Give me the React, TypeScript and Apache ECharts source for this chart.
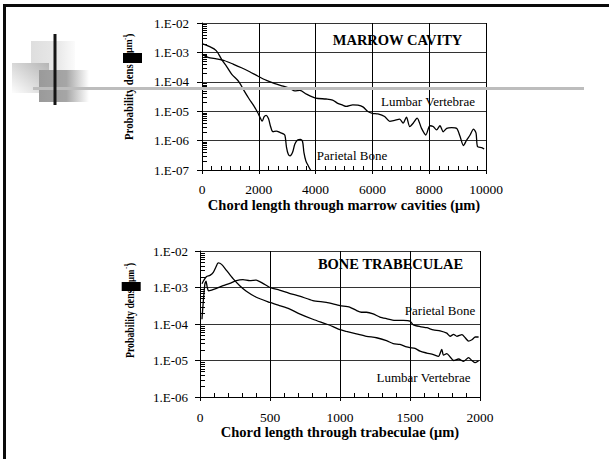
import React, { useEffect, useRef } from 'react';
import * as echarts from 'echarts';

const SERIF = "'Liberation Serif', 'Times New Roman', Times, serif";

// Marrow cavities: [chord length (µm), probability density (µm^-1)]
const marrowParietal: [number, number][] = [
  [0, 2.0e-3], [250, 1.6e-3], [500, 1.15e-3], [690, 5.8e-4], [870, 3.3e-4],
  [1050, 1.8e-4], [1300, 1.0e-4], [1480, 5.0e-5], [1650, 2.7e-5], [1820, 1.55e-5],
  [1960, 9.0e-6], [2050, 6.0e-6], [2120, 4.6e-6], [2190, 6.5e-6], [2260, 7.2e-6],
  [2340, 5.6e-6], [2420, 2.9e-6], [2500, 2.0e-6], [2620, 2.1e-6], [2740, 1.9e-6],
  [2860, 1.7e-6], [2920, 1.5e-6], [2975, 6.0e-7], [3035, 3.5e-7], [3100, 3.0e-7],
  [3190, 4.0e-7], [3270, 7.6e-7], [3365, 1.05e-6], [3470, 1.1e-6], [3540, 9.3e-7],
  [3590, 3.9e-7], [3660, 2.0e-7], [3740, 1.4e-7], [3820, 1.0e-7], [3880, 8.0e-8],
];

const marrowLumbar: [number, number][] = [
  [0, 8.7e-4], [210, 6.8e-4], [506, 6.0e-4], [800, 5.2e-4], [1094, 4.0e-4],
  [1390, 3.0e-4], [1680, 2.2e-4], [1975, 1.55e-4], [2270, 1.12e-4], [2565, 8.7e-5],
  [2860, 7.1e-5], [3095, 5.9e-5], [3270, 4.9e-5], [3445, 5.1e-5], [3680, 3.8e-5],
  [4000, 2.8e-5], [4366, 2.6e-5], [4600, 2.4e-5], [4780, 1.85e-5], [4955, 1.6e-5],
  [5075, 1.45e-5], [5310, 1.65e-5], [5490, 1.6e-5], [5665, 1.4e-5], [5840, 9.8e-6],
  [6000, 8.5e-6], [6195, 8.1e-6], [6430, 6.6e-6], [6610, 4.5e-6], [6785, 4.9e-6],
  [6960, 5.4e-6], [7080, 3.9e-6], [7200, 6.3e-6], [7315, 3.0e-6], [7435, 3.9e-6],
  [7575, 5.8e-6], [7730, 2.6e-6], [7880, 1.55e-6], [8025, 3.2e-6], [8140, 3.0e-6],
  [8260, 2.3e-6], [8380, 3.2e-6], [8495, 2.0e-6], [8615, 2.6e-6], [8790, 2.75e-6],
  [8970, 2.6e-6], [9085, 1.4e-6], [9205, 6.8e-7], [9320, 1.05e-6], [9440, 1.55e-6],
  [9560, 2.45e-6], [9650, 1.8e-6], [9700, 6.3e-7], [9850, 5.8e-7], [9935, 5.2e-7],
];

// Bone trabeculae: [chord length (µm), probability density (µm^-1)]
const trabParietal: [number, number][] = [
  [14, 1.35e-4], [24, 4.4e-4], [35, 1.25e-3], [43, 1.5e-3], [52, 1.0e-3],
  [61, 8.1e-4], [83, 8.5e-4], [118, 9.5e-4], [165, 1.12e-3], [213, 1.3e-3],
  [260, 1.55e-3], [307, 1.65e-3], [355, 1.55e-3], [402, 1.6e-3], [449, 1.3e-3],
  [499, 1.0e-3], [567, 8.5e-4], [638, 6.9e-4], [711, 5.8e-4], [806, 4.4e-4],
  [902, 3.9e-4], [1000, 3.2e-4], [1069, 2.9e-4], [1117, 2.35e-4], [1153, 2.1e-4],
  [1189, 2.1e-4], [1237, 1.9e-4], [1285, 1.55e-4], [1332, 1.4e-4], [1392, 1.25e-4],
  [1452, 1.25e-4], [1500, 1.2e-4], [1524, 9.5e-5], [1572, 8.5e-5], [1620, 7.9e-5],
  [1667, 6.9e-5], [1715, 6.5e-5], [1763, 5.6e-5], [1787, 4.6e-5], [1811, 5.2e-5],
  [1835, 4.6e-5], [1871, 5.1e-5], [1894, 4.2e-5], [1918, 3.4e-5], [1942, 3.7e-5],
  [1966, 4.4e-5], [1990, 4.4e-5],
];

const trabLumbar: [number, number][] = [
  [14, 1.26e-3], [28, 1.6e-3], [47, 2.0e-3], [71, 2.15e-3], [95, 2.6e-3],
  [113, 3.6e-3], [130, 4.7e-3], [154, 4.3e-3], [189, 2.95e-3], [236, 1.75e-3],
  [284, 1.12e-3], [331, 7.9e-4], [402, 5.4e-4], [499, 3.9e-4], [567, 3.2e-4],
  [638, 2.6e-4], [711, 1.9e-4], [806, 1.35e-4], [902, 1.0e-4], [950, 8.5e-5],
  [1000, 7.0e-5], [1045, 6.3e-5], [1117, 5.4e-5], [1189, 4.6e-5], [1261, 4.2e-5],
  [1332, 3.5e-5], [1380, 2.9e-5], [1428, 2.75e-5], [1476, 2.35e-5], [1500, 2.25e-5],
  [1536, 2.15e-5], [1572, 1.8e-5], [1620, 1.6e-5], [1667, 1.45e-5], [1703, 1.3e-5],
  [1727, 2.0e-5], [1739, 1.4e-5], [1763, 1.55e-5], [1787, 1.25e-5], [1811, 1.0e-5],
  [1847, 1.1e-5], [1883, 9.5e-6], [1918, 1.2e-5], [1942, 1.0e-5], [1966, 8.7e-6],
  [1990, 9.8e-6],
];

// Axis ranges
const marrowX = { max: 10000, interval: 2000, minorPerInterval: 6 };
const trabX = { max: 2000, interval: 500, minorPerInterval: 5 };
const marrowDecades = [1e-7, 1e-6, 1e-5, 1e-4, 1e-3];
const trabDecades = [1e-6, 1e-5, 1e-4, 1e-3];
const minorSteps = [2, 3, 4, 5, 6, 7, 8, 9];

// Log minor tick positions (2..9 within each decade), pinned to x = 0
const logMinorTicks = (decades: number[]) =>
  decades.flatMap((d) => minorSteps.map((m) => [0, m * d]));

// Linear minor tick positions between the labelled x ticks, pinned to the y minimum
const linMinorTicks = (ax: { max: number; interval: number; minorPerInterval: number }, yMin: number) => {
  const out: number[][] = [];
  const step = ax.interval / ax.minorPerInterval;
  for (let k = 0; k < ax.max / ax.interval; k++) {
    for (let j = 1; j < ax.minorPerInterval; j++) out.push([k * ax.interval + j * step, yMin]);
  }
  return out;
};

const decadeLabel = (v: number) => {
  const e = Math.round(Math.log10(v));
  return `1.E${e < 0 ? '-' : '+'}${String(Math.abs(e)).padStart(2, '0')}`;
};

const BLACK = '#000';

const mainX = (gridIndex: number, max: number, interval: number, name: string, nameGap: number, margin: number) => ({
  type: 'value',
  gridIndex,
  position: 'bottom',
  min: 0,
  max,
  interval,
  name,
  nameLocation: 'middle',
  nameGap,
  nameTextStyle: { fontFamily: SERIF, fontWeight: 'bold', fontSize: 14.5, color: BLACK },
  axisLine: { show: true, lineStyle: { color: BLACK, width: 1 } },
  axisTick: { show: true, length: 4, lineStyle: { color: BLACK } },
  axisLabel: { formatter: (v: number) => String(v), fontFamily: SERIF, fontSize: 13.5, color: BLACK, margin },
  splitLine: { show: true, lineStyle: { color: BLACK, width: 1 } },
});

const logY = (gridIndex: number, min: number, splitNumber: number, margin: number) => ({
  type: 'log',
  logBase: 10,
  gridIndex,
  min,
  max: 1e-2,
  splitNumber,
  axisLine: { show: true, lineStyle: { color: BLACK, width: 1 } },
  axisTick: { show: true, length: 5, lineStyle: { color: BLACK } },
  axisLabel: { formatter: decadeLabel, fontFamily: SERIF, fontSize: 13, color: BLACK, margin },
  splitLine: { show: true, lineStyle: { color: '#333', width: 1.2 } },
});

const curve = (data: [number, number][], xAxisIndex: number, yAxisIndex: number, smooth: number) => ({
  type: 'line',
  data,
  xAxisIndex,
  yAxisIndex,
  showSymbol: false,
  smooth,
  silent: true,
  lineStyle: { color: BLACK, width: 1.3 },
});

// Short tick marks drawn through the axes' own scales; dx/dy give the tick direction
const tickSeries = (data: number[][], xAxisIndex: number, yAxisIndex: number, dx: number, dy: number) => ({
  type: 'custom',
  coordinateSystem: 'cartesian2d',
  xAxisIndex,
  yAxisIndex,
  silent: true,
  z: 5,
  data,
  renderItem: (_p: any, api: any) => {
    const pt = api.coord([api.value(0), api.value(1)]);
    const x = dx ? pt[0] : Math.round(pt[0]) + 0.5;
    const y = dy ? pt[1] : Math.round(pt[1]) + 0.5;
    return {
      type: 'line',
      shape: { x1: x, y1: y, x2: x + dx, y2: y + dy },
      style: { stroke: BLACK, lineWidth: 1 },
    };
  },
});

const txt = (text: string, x: number, y: number, size: number, bold: boolean) => ({
  type: 'text',
  x,
  y,
  z: 20,
  silent: true,
  style: {
    text,
    fontFamily: SERIF,
    fontSize: size,
    fontWeight: bold ? 'bold' : 'normal',
    fill: BLACK,
    align: 'center',
    verticalAlign: 'middle',
  },
});

// Rotated y-axis caption with the blacked-out middle
const yCaption = (cx: number, bottom: number, size: number, squeeze: number, boxX: number, boxY: number, boxW: number, boxH: number) => [
  {
    type: 'text', x: cx, y: bottom, rotation: Math.PI / 2, scaleX: squeeze, z: 20, silent: true,
    style: { text: 'Probability dens', fontFamily: SERIF, fontSize: size, fontWeight: 'bold', fill: BLACK, align: 'left', verticalAlign: 'middle' },
  },
  {
    type: 'text', x: cx, y: boxY, rotation: Math.PI / 2, scaleX: squeeze, z: 20, silent: true,
    style: { text: 'μm', fontFamily: SERIF, fontSize: size - 1, fontWeight: 'bold', fill: BLACK, align: 'left', verticalAlign: 'middle' },
  },
  {
    type: 'text', x: cx - 4, y: boxY - 13, rotation: Math.PI / 2, z: 20, silent: true,
    style: { text: '-1', fontFamily: SERIF, fontSize: 7, fontWeight: 'bold', fill: BLACK, align: 'left', verticalAlign: 'middle' },
  },
  {
    type: 'text', x: cx + 1, y: boxY - 16, rotation: Math.PI / 2, z: 20, silent: true,
    style: { text: ')', fontFamily: SERIF, fontSize: size - 2, fontWeight: 'bold', fill: BLACK, align: 'left', verticalAlign: 'middle' },
  },
  { type: 'rect', z: 21, silent: true, shape: { x: boxX, y: boxY, width: boxW, height: boxH }, style: { fill: BLACK } },
];

const linGrad = (x: number, y: number, x2: number, y2: number, stops: [number, string][]) => ({
  type: 'linear', x, y, x2, y2,
  colorStops: stops.map(([offset, color]) => ({ offset, color })),
});

export default function App() {
  const ref = useRef<HTMLDivElement>(null);

  useEffect(() => {
    if (!ref.current) return;
    const chart = echarts.init(ref.current, undefined, { renderer: 'svg' });

    chart.setOption({
      animation: false,
      backgroundColor: '#fff',
      grid: [
        { left: 202, top: 23, width: 284, height: 147, outerBoundsMode: 'none' },
        { left: 200, top: 251, width: 280, height: 146, outerBoundsMode: 'none' },
      ],
      xAxis: [
        mainX(0, marrowX.max, marrowX.interval, 'Chord length through marrow cavities (μm)', 27, 12),
        mainX(1, trabX.max, trabX.interval, 'Chord length through trabeculae (μm)', 26, 13),
      ],
      yAxis: [logY(0, 1e-7, 5, 13), logY(1, 1e-6, 4, 12)],
      series: [
        curve(marrowParietal, 0, 0, 0.35),
        curve(marrowLumbar, 0, 0, 0.25),
        curve(trabParietal, 1, 1, 0.2),
        curve(trabLumbar, 1, 1, 0.25),
        tickSeries(logMinorTicks(marrowDecades), 0, 0, 5, 0),
        tickSeries(logMinorTicks(trabDecades), 1, 1, 5, 0),
        tickSeries(linMinorTicks(marrowX, 1e-7), 0, 0, 0, -4),
        tickSeries(linMinorTicks(trabX, 1e-6), 1, 1, 0, -4),
      ],
      graphic: [
        // slide frame
        { type: 'rect', z: 30, silent: true, shape: { x: 3, y: 4, width: 606, height: 3 }, style: { fill: '#0a0a0a' } },
        { type: 'rect', z: 30, silent: true, shape: { x: 3, y: 4, width: 3, height: 455 }, style: { fill: '#0a0a0a' } },
        // corner ornament
        {
          type: 'rect', z: 10, silent: true, shape: { x: 31, y: 41, width: 44, height: 31 },
          style: { fill: linGrad(0, 0, 1, 0, [[0, '#dedede'], [0.6, '#e8e8e8'], [1, '#fbfbfb']]) },
        },
        {
          type: 'rect', z: 11, silent: true, shape: { x: 12, y: 63, width: 37, height: 30 },
          style: { fill: linGrad(1, 0, 0, 1, [[0, '#b4b4b4'], [0.5, '#d8d8d8'], [1, '#fdfdfd']]) },
        },
        {
          type: 'rect', z: 12, silent: true, shape: { x: 39, y: 70, width: 50, height: 32 },
          style: { fill: linGrad(0, 0, 1, 0, [[0, '#9a9a9a'], [0.55, '#a6a6a6'], [1, '#ffffff']]) },
        },
        { type: 'rect', z: 40, silent: true, shape: { x: 33, y: 87, width: 551, height: 3 }, style: { fill: '#bdbdbd' } },
        { type: 'rect', z: 41, silent: true, shape: { x: 53.5, y: 34, width: 3, height: 71 }, style: { fill: '#151515' } },
        // panel titles and curve labels
        txt('MARROW CAVITY', 397.5, 40, 14.5, true),
        txt('Lumbar Vertebrae', 428, 101.5, 13, false),
        txt('Parietal Bone', 352, 155.5, 13, false),
        txt('BONE TRABECULAE', 390.5, 263.5, 14.5, true),
        txt('Parietal Bone', 440, 310, 13, false),
        txt('Lumbar Vertebrae', 423.5, 377, 13, false),
        ...yCaption(128.5, 140, 12, 0.9, 123, 53, 19, 10),
        ...yCaption(130, 358, 11.5, 0.85, 121.7, 282, 19, 9),
      ],
    });

    return () => chart.dispose();
  }, []);

  return (
    <div
      ref={ref}
      style={{ position: 'absolute', left: 0, top: 0, width: 609, height: 459 }}
    />
  );
}
